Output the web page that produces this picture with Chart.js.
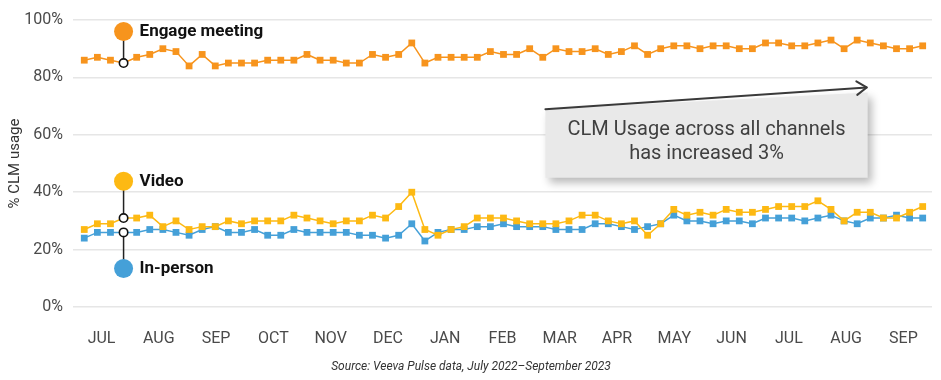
<!DOCTYPE html>
<html>
<head>
<meta charset="utf-8">
<script src="https://cdn.jsdelivr.net/npm/chart.js@4/dist/chart.umd.min.js"></script>
<style>
  html, body { margin: 0; padding: 0; background: #ffffff; }
  #wrap { width: 941px; height: 380px; position: relative; }
</style>
</head>
<body>
<div id="wrap"><canvas id="c" width="941" height="380"></canvas></div>
<script>
// ---- data (weekly, July 2022 – September 2023) ----
const monthLabels = ['JUL','AUG','SEP','OCT','NOV','DEC','JAN','FEB','MAR','APR','MAY','JUN','JUL','AUG','SEP'];
const yTickValues = [0, 20, 40, 60, 80, 100];

const engageMeeting = [
  86,87,86,85,87,88,90,89,84,88,84,85,85,85,86,86,86,88,86,86,85,85,88,87,88,92,85,87,87,87,87,89,
  88,88,90,87,90,89,89,90,88,89,91,88,90,91,91,90,91,91,90,90,92,92,91,91,92,93,90,93,92,91,90,90,91
];
const video = [
  27,29,29,31,31,32,28,30,27,28,28,30,29,30,30,30,32,31,30,29,30,30,32,31,35,40,27,25,27,28,31,31,
  31,30,29,29,29,30,32,32,30,29,30,25,29,34,32,33,32,34,33,33,34,35,35,35,37,34,30,33,33,31,31,33,35
];
const inPerson = [
  24,26,26,26,26,27,27,26,25,27,28,26,26,27,25,25,27,26,26,26,26,25,25,24,25,29,23,26,27,27,28,28,
  29,28,28,28,27,27,27,29,29,28,27,28,29,32,30,30,29,30,30,29,31,31,31,30,31,32,30,29,31,31,32,31,31
];

const weekIndex = engageMeeting.map((_, i) => i);

const ORANGE = '#F7941D';
const YELLOW = '#FDB913';
const BLUE = '#45A0D8';
const FONT = 'Roboto, "Liberation Sans", sans-serif';

function series(label, values, color) {
  return {
    label,
    data: values.map((v, i) => ({ x: weekIndex[i], y: v })),
    borderColor: color,
    backgroundColor: color,
    borderWidth: 1.5,
    pointStyle: 'rect',
    pointRadius: 4.8,
    pointBorderWidth: 0,
    tension: 0
  };
}

// ---- custom drawing: series labels, annotation, source ----
const overlay = {
  id: 'overlay',
  afterDatasetsDraw(chart) {
    const ctx = chart.ctx;
    const xs = chart.scales.x, ys = chart.scales.y;
    const li = 3; // week index where labels are pinned
    const px = xs.getPixelForValue(weekIndex[li]);

    const labels = [
      { text: 'Engage meeting', color: ORANGE, at: engageMeeting[li], tag: 96 },
      { text: 'Video', color: YELLOW, at: video[li], tag: 43.8 },
      { text: 'In-person', color: BLUE, at: inPerson[li], tag: 13.4 }
    ];
    ctx.save();
    labels.forEach(l => {
      const yp = ys.getPixelForValue(l.at);
      const yt = ys.getPixelForValue(l.tag);
      ctx.strokeStyle = '#222';
      ctx.lineWidth = 1.5;
      ctx.beginPath(); ctx.moveTo(px, yp); ctx.lineTo(px, yt); ctx.stroke();
      ctx.fillStyle = l.color;
      ctx.beginPath(); ctx.arc(px, yt, 9.5, 0, Math.PI * 2); ctx.fill();
      ctx.fillStyle = '#fff';
      ctx.strokeStyle = '#111';
      ctx.lineWidth = 1.6;
      ctx.beginPath(); ctx.arc(px, yp, 4.2, 0, Math.PI * 2); ctx.fill(); ctx.stroke();
      ctx.fillStyle = '#111';
      ctx.font = 'bold 17px ' + FONT;
      ctx.textBaseline = 'middle';
      ctx.textAlign = 'left';
      ctx.fillText(l.text, px + 16, yt);
    });

    // annotation box with arrow
    const x1 = xs.getPixelForValue(35.2), x2 = xs.getPixelForValue(59.8);
    const yA1 = ys.getPixelForValue(68.9), yA2 = ys.getPixelForValue(76.5);
    const yB = ys.getPixelForValue(45.0);
    ctx.save();
    ctx.shadowColor = 'rgba(0,0,0,0.28)';
    ctx.shadowBlur = 9;
    ctx.shadowOffsetX = 4;
    ctx.shadowOffsetY = 5;
    ctx.fillStyle = '#E9E9E9';
    ctx.beginPath();
    ctx.moveTo(x1, yA1);
    ctx.lineTo(x2, yA2 + 5);
    ctx.lineTo(x2, yB);
    ctx.lineTo(x1, yB);
    ctx.closePath();
    ctx.fill();
    ctx.restore();

    ctx.strokeStyle = '#3a3a3a';
    ctx.lineWidth = 2;
    ctx.lineCap = 'round';
    ctx.lineJoin = 'round';
    ctx.beginPath(); ctx.moveTo(x1, yA1); ctx.lineTo(x2 - 1, yA2); ctx.stroke();
    const ang = Math.atan2(yA2 - yA1, x2 - 1 - x1);
    const ah = 12;
    ctx.beginPath();
    ctx.moveTo(x2 - 1 - ah * Math.cos(ang - 0.6), yA2 - ah * Math.sin(ang - 0.6));
    ctx.lineTo(x2 - 1, yA2);
    ctx.lineTo(x2 - 1 - ah * Math.cos(ang + 0.6), yA2 - ah * Math.sin(ang + 0.6));
    ctx.stroke();

    ctx.fillStyle = '#404040';
    ctx.font = '20px ' + FONT;
    ctx.textAlign = 'center';
    ctx.textBaseline = 'middle';
    const cx = (x1 + x2) / 2;
    ctx.fillText('CLM Usage across all channels', cx, ys.getPixelForValue(61.5));
    ctx.fillText('has increased 3%', cx, ys.getPixelForValue(53.2));

    // source line
    ctx.fillStyle = '#333';
    ctx.font = 'italic 12px ' + FONT;
    ctx.textAlign = 'center';
    ctx.fillText('Source: Veeva Pulse data, July 2022\u2013September 2023', 471, 367);
    ctx.restore();
  }
};

new Chart(document.getElementById('c'), {
  type: 'line',
  data: {
    datasets: [
      series('Engage meeting', engageMeeting, ORANGE),
      series('Video', video, YELLOW),
      series('In-person', inPerson, BLUE)
    ]
  },
  options: {
    responsive: false,
    animation: false,
    layout: { padding: { top: 20, right: 9, bottom: 33, left: 0 } },
    scales: {
      x: {
        type: 'linear',
        min: -0.86,
        max: 64.71,
        grid: { display: false },
        border: { display: false },
        afterBuildTicks: s => { s.ticks = monthLabels.map((m, i) => ({ value: 1.32 + 4.372 * i })); },
        afterFit: s => { s.height = 40; },
        ticks: {
          autoSkip: false,
          maxRotation: 0,
          padding: 14,
          color: '#4a4a4a',
          font: { family: FONT, size: 16 },
          callback: (v, i) => monthLabels[i]
        }
      },
      y: {
        min: 0,
        max: 100,
        afterBuildTicks: s => { s.ticks = yTickValues.map(v => ({ value: v })); },
        afterFit: s => { s.width = 73; },
        grid: { color: '#E6E6E6', lineWidth: 1.5, drawTicks: false },
        border: { display: false },
        ticks: {
          padding: 10,
          color: '#4a4a4a',
          font: { family: FONT, size: 16 },
          callback: v => v + '%'
        },
        title: {
          display: true,
          text: '% CLM usage',
          color: '#333',
          font: { family: FONT, size: 15 },
          padding: { top: 6, bottom: 2 }
        }
      }
    },
    plugins: { legend: { display: false }, tooltip: { enabled: false } }
  },
  plugins: [overlay]
});
</script>
</body>
</html>
